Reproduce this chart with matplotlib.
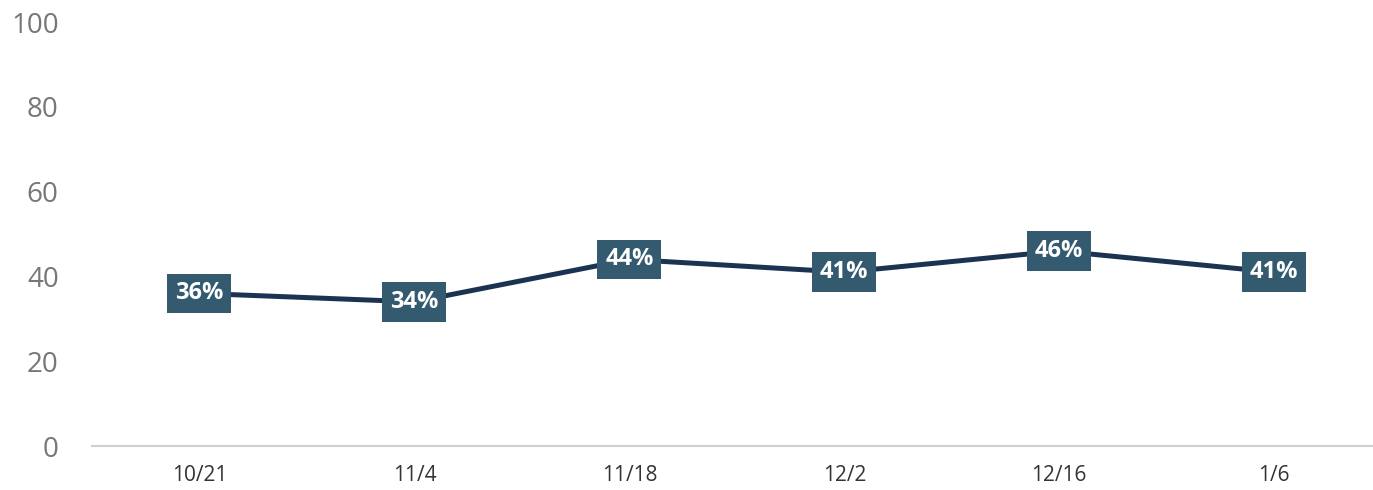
import matplotlib.pyplot as plt

plt.rcParams['font.family'] = ['Open Sans', 'DejaVu Sans']

dates = ['10/21', '11/4', '11/18', '12/2', '12/16', '1/6']
values = [36, 34, 44, 41, 46, 41]
yticks = [0, 20, 40, 60, 80, 100]


def main():
    fig = plt.figure(figsize=(13.73, 4.9), dpi=100)
    ax = fig.add_axes([92 / 1373, 44 / 490, 1 - 92 / 1373, 424 / 490])

    x = list(range(len(dates)))
    ax.plot(x, values, color='#1b3350', linewidth=3.6, solid_capstyle='butt', zorder=2)

    # value labels in dark boxes sitting on the points
    for xi, v in zip(x, values):
        ax.text(xi, v, f'{v}%', ha='center', va='center', color='white',
                fontsize=17, fontweight='bold', zorder=3,
                bbox=dict(boxstyle='square,pad=0.33', facecolor='#345a70',
                          edgecolor='none'))

    ax.set_xlim(-0.5, 5.46)
    ax.set_ylim(0, 100)
    ax.set_xticks(x)
    ax.set_xticklabels(dates, fontsize=15, color='#333333')
    ax.set_yticks(yticks)
    ax.set_yticklabels([str(t) for t in yticks], fontsize=20, color='#777777')
    ax.tick_params(axis='x', length=0, pad=14)
    ax.tick_params(axis='y', length=0, pad=24)

    for side in ['top', 'right', 'left']:
        ax.spines[side].set_visible(False)
    ax.spines['bottom'].set_color('#d0d0d0')
    ax.spines['bottom'].set_linewidth(1.5)

    fig.savefig('out.png', dpi=100)


if __name__ == "__main__":
    main()
